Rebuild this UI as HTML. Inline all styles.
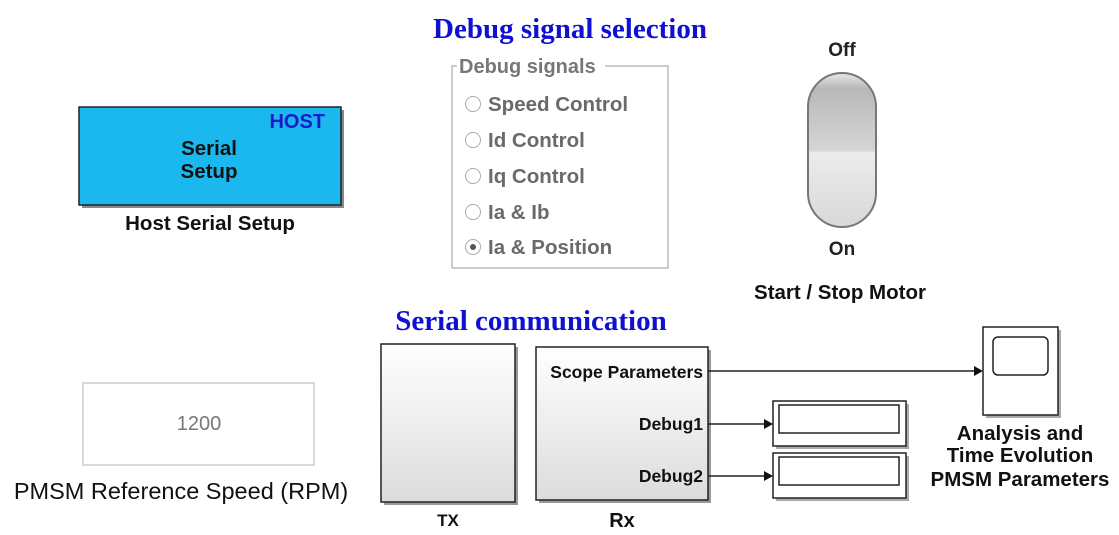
<!DOCTYPE html>
<html><head><style>body{margin:0;background:#fff}svg{display:block}</style></head><body>
<svg width="1119" height="535" viewBox="0 0 1119 535" xmlns="http://www.w3.org/2000/svg" font-family="Liberation Sans, sans-serif">
<defs>
<linearGradient id="g" x1="0" y1="0" x2="0" y2="1"><stop offset="0" stop-color="#fff"/><stop offset="1" stop-color="#dcdcdc"/></linearGradient>
<linearGradient id="tg" x1="0" y1="0" x2="0" y2="1"><stop offset="0" stop-color="#e8e8e8"/><stop offset="0.1" stop-color="#b8b8b8"/><stop offset="0.5" stop-color="#d5d5d5"/><stop offset="0.52" stop-color="#ececec"/><stop offset="1" stop-color="#d8d8d8"/></linearGradient>
</defs>
<text x="570" y="38" text-anchor="middle" font-family="Liberation Serif, serif" font-weight="bold" font-size="29" fill="#1010d0">Debug signal selection</text>
<path d="M452 268 V66 H457 M605 66 H668 V268 H452" fill="none" stroke="#bbb" stroke-width="1.5"/>
<text x="459" y="73" font-size="20" font-weight="bold" fill="#777">Debug signals</text>
<g font-size="20.5" font-weight="bold" fill="#6a6a6a">
<circle cx="473" cy="104" r="7.5" fill="#fff" stroke="#aaa"/><text x="488" y="111">Speed Control</text>
<circle cx="473" cy="140" r="7.5" fill="#fff" stroke="#aaa"/><text x="488" y="147">Id Control</text>
<circle cx="473" cy="176" r="7.5" fill="#fff" stroke="#aaa"/><text x="488" y="183">Iq Control</text>
<circle cx="473" cy="212" r="7.5" fill="#fff" stroke="#aaa"/><text x="488" y="219">Ia &amp; Ib</text>
<circle cx="473" cy="247" r="7.5" fill="#fff" stroke="#aaa"/><circle cx="473" cy="247" r="3" fill="#555"/><text x="488" y="254">Ia &amp; Position</text>
</g>
<rect x="82" y="110" width="262" height="98" fill="#888"/>
<rect x="79" y="107" width="262" height="98" fill="#1bb8ef" stroke="#222" stroke-width="1.5"/>
<text x="325" y="128" text-anchor="end" font-size="20" font-weight="bold" fill="#1a1acc">HOST</text>
<text x="209" y="155" text-anchor="middle" font-size="20.5" font-weight="bold" fill="#111">Serial</text>
<text x="209" y="178" text-anchor="middle" font-size="20.5" font-weight="bold" fill="#111">Setup</text>
<text x="210" y="230" text-anchor="middle" font-size="20.5" font-weight="bold" fill="#111">Host Serial Setup</text>
<text x="842" y="56" text-anchor="middle" font-size="19" font-weight="bold" fill="#222">Off</text>
<rect x="808" y="73" width="68" height="154" rx="34" fill="url(#tg)" stroke="#777" stroke-width="2"/>
<text x="842" y="255" text-anchor="middle" font-size="19" font-weight="bold" fill="#222">On</text>
<text x="840" y="299" text-anchor="middle" font-size="20.5" font-weight="bold" fill="#111">Start / Stop Motor</text>
<text x="531" y="330" text-anchor="middle" font-family="Liberation Serif, serif" font-weight="bold" font-size="29" fill="#1010d0">Serial communication</text>
<rect x="83" y="383" width="231" height="82" fill="#fff" stroke="#ccc" stroke-width="1.5"/>
<text x="199" y="430" text-anchor="middle" font-size="20" fill="#777">1200</text>
<text x="181" y="499" text-anchor="middle" font-size="23.5" fill="#111">PMSM Reference Speed (RPM)</text>
<rect x="384" y="347" width="134" height="158" fill="#999"/>
<rect x="381" y="344" width="134" height="158" fill="url(#g)" stroke="#222" stroke-width="1.5"/>
<text x="448" y="526" text-anchor="middle" font-size="17" font-weight="bold" fill="#111">TX</text>
<rect x="539" y="350" width="172" height="153" fill="#999"/>
<rect x="536" y="347" width="172" height="153" fill="url(#g)" stroke="#222" stroke-width="1.5"/>
<g font-size="17.5" font-weight="bold" fill="#111" text-anchor="end">
<text x="703" y="378">Scope Parameters</text><text x="703" y="430">Debug1</text><text x="703" y="482">Debug2</text></g>
<text x="622" y="527" text-anchor="middle" font-size="20" font-weight="bold" fill="#111">Rx</text>
<g stroke="#222" stroke-width="1.5">
<line x1="708" y1="371" x2="976" y2="371"/><line x1="708" y1="424" x2="767" y2="424"/><line x1="708" y1="476" x2="767" y2="476"/></g>
<g fill="#111"><path d="M983 371 l-9 -5 v10z"/><path d="M773 424 l-9 -5 v10z"/><path d="M773 476 l-9 -5 v10z"/></g>
<rect x="986" y="330" width="75" height="88" fill="#aaa"/>
<rect x="983" y="327" width="75" height="88" fill="#fff" stroke="#222" stroke-width="1.5"/>
<rect x="993" y="337" width="55" height="38" rx="5" fill="#fff" stroke="#222" stroke-width="1.5"/>
<rect x="776" y="404" width="133" height="45" fill="#aaa"/>
<rect x="773" y="401" width="133" height="45" fill="#fff" stroke="#222" stroke-width="1.5"/>
<rect x="779" y="405" width="120" height="28" fill="#fff" stroke="#222" stroke-width="1.5"/>
<rect x="776" y="456" width="133" height="45" fill="#aaa"/>
<rect x="773" y="453" width="133" height="45" fill="#fff" stroke="#222" stroke-width="1.5"/>
<rect x="779" y="457" width="120" height="28" fill="#fff" stroke="#222" stroke-width="1.5"/>
<g font-size="20.5" font-weight="bold" fill="#111" text-anchor="middle">
<text x="1020" y="440">Analysis and</text><text x="1020" y="462">Time Evolution</text><text x="1020" y="486">PMSM Parameters</text></g>
</svg>
</body></html>
